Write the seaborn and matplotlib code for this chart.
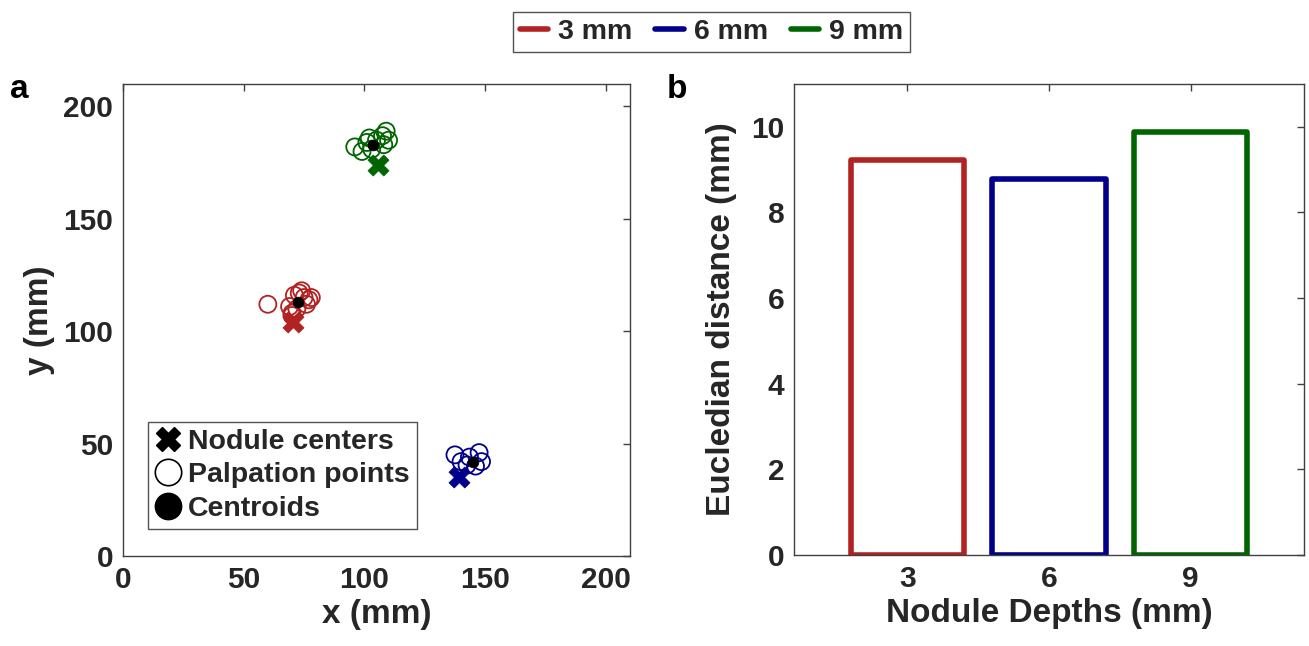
import numpy as np
import pandas as pd
import matplotlib
matplotlib.use("Agg")
import matplotlib.pyplot as plt
from matplotlib.lines import Line2D
import seaborn as sns

# ---------------- data ----------------
depth_labels = ["3 mm", "6 mm", "9 mm"]
depth_ticks = ["3", "6", "9"]
colors = ["#B22222", "#00008B", "#006400"]

# palpation points per depth
red_x = [60, 70, 71, 73, 75, 77, 78, 76, 72, 74, 69, 70]
red_y = [112, 108, 116, 117, 115, 114, 115, 112, 110, 118, 111, 107]
blue_x = [137.5, 140, 143.5, 147.5, 148.5, 146, 142.5]
blue_y = [45, 42, 44, 46, 42, 40, 40.5]
green_x = [96, 99, 101, 103, 105, 107.5, 109, 108, 110, 102]
green_y = [182, 180, 184, 181, 185, 187, 189, 183, 185, 186]

# nodule centers
center_x = [70.5, 139, 105.5]
center_y = [104, 35, 174]

# centroids of palpation points
centroid_x = [72.5, 145, 103.5]
centroid_y = [113, 41.8, 183]

# Euclidean distance per depth
distances = [9.22, 8.78, 9.88]

# ---------------- style ----------------
sns.set_style("white")
plt.rcParams["font.family"] = ["Liberation Sans", "DejaVu Sans"]
plt.rcParams["font.weight"] = "bold"
plt.rcParams["axes.labelweight"] = "bold"
TXT = "#262626"

fig = plt.figure(figsize=(13.09, 6.46), dpi=100)
axA = fig.add_axes([123/1309, 90/646, 507/1309, 472/646])
axB = fig.add_axes([794/1309, 91/646, 510/1309, 471/646])

# ---------------- panel a ----------------
pts_x = [red_x, blue_x, green_x]
pts_y = [red_y, blue_y, green_y]
for px, py, c in zip(pts_x, pts_y, colors):
    sns.scatterplot(x=px, y=py, ax=axA, marker="o", s=150, color=c,
                    facecolor="none", edgecolor=c, linewidth=1.3, zorder=3)
for i, c in enumerate(colors):
    sns.scatterplot(x=[center_x[i]], y=[center_y[i]], ax=axA, marker="X", s=230,
                    color=c, edgecolor=c, linewidth=0.5, zorder=4)
sns.scatterplot(x=centroid_x, y=centroid_y, ax=axA, marker="o", s=60,
                color="black", edgecolor="black", linewidth=0.5, zorder=5)

axA.set_xlim(0, 210)
axA.set_ylim(0, 210)
axA.set_xticks([0, 50, 100, 150, 200])
axA.set_yticks([0, 50, 100, 150, 200])
axA.set_xlabel("x (mm)", fontsize=24, color=TXT, labelpad=4)
axA.set_ylabel("y (mm)", fontsize=24, color=TXT, labelpad=6)

handles = [
    Line2D([], [], linestyle="none", marker="X", markersize=17, color="black"),
    Line2D([], [], linestyle="none", marker="o", markersize=19, markerfacecolor="white",
           markeredgecolor="black", markeredgewidth=1.2),
    Line2D([], [], linestyle="none", marker="o", markersize=19, color="black"),
]
legA = axA.legend(handles, ["Nodule centers", "Palpation points", "Centroids"],
                  loc="lower left", bbox_to_anchor=(0.05, 0.058), borderaxespad=0,
                  frameon=True, fancybox=False, edgecolor="#262626",
                  handlelength=0.9, handletextpad=0.25, labelspacing=0.25,
                  borderpad=0.25, prop={"weight": "bold", "size": 20.5})
legA.get_frame().set_linewidth(1.0)

# ---------------- panel b ----------------
df = pd.DataFrame({"depth": depth_ticks, "dist": distances})
sns.barplot(data=df, x="depth", y="dist", hue="depth", palette=colors, ax=axB,
            fill=False, linewidth=4, width=0.8, legend=False, zorder=3)
for p in axB.patches:
    p.set_joinstyle("round")
axB.set_xlim(-0.8, 2.8)
axB.set_ylim(0, 11)
axB.set_yticks([0, 2, 4, 6, 8, 10])
axB.set_xlabel("Nodule Depths (mm)", fontsize=24, color=TXT, labelpad=4)
axB.set_ylabel("Eucledian distance (mm)", fontsize=24, color=TXT, labelpad=10)

for ax in (axA, axB):
    ax.tick_params(direction="in", top=True, right=True, length=5, width=1,
                   color="#404040", labelsize=21.5, labelcolor=TXT, pad=7)
    for lab in ax.get_xticklabels() + ax.get_yticklabels():
        lab.set_fontweight("bold")
    for s in ax.spines.values():
        s.set_color("#404040")
        s.set_linewidth(1.0)
        s.set_visible(True)
        s.set_zorder(10)

# ---------------- top legend ----------------
top_handles = [Line2D([], [], color=c, linewidth=4) for c in colors]
legT = fig.legend(top_handles, depth_labels, loc="center", bbox_to_anchor=(0.5435, 0.95),
                  ncol=3, frameon=True, fancybox=False, edgecolor="#262626",
                  handlelength=1.0, handletextpad=0.35, columnspacing=0.8,
                  borderpad=0.25, prop={"weight": "bold", "size": 20.5})
legT.get_frame().set_linewidth(1.0)

# ---------------- panel letters ----------------
fig.text(10/1309, 1 - 90/646, "a", fontsize=24, fontweight="bold", color="black", va="center")
fig.text(667/1309, 1 - 90/646, "b", fontsize=24, fontweight="bold", color="black", va="center")

fig.savefig("out.png", dpi=100)
